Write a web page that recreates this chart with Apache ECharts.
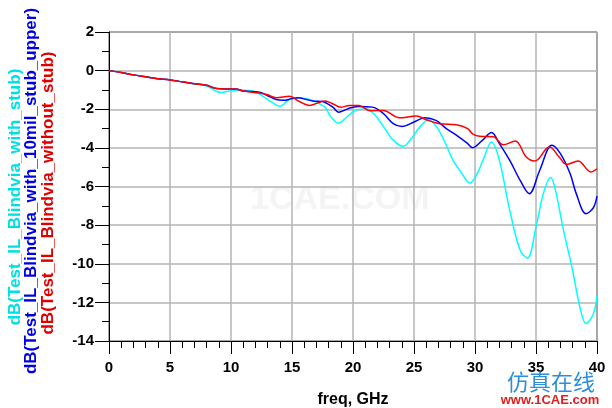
<!DOCTYPE html>
<html>
<head>
<meta charset="utf-8">
<script src="https://cdn.jsdelivr.net/npm/echarts@6/dist/echarts.min.js"></script>
<style>
html,body{margin:0;padding:0;background:#fff;}
#chart{width:612px;height:408px;}
</style>
</head>
<body>
<div id="chart"></div>
<script>
// ---- data ----
var xTicks = [0, 5, 10, 15, 20, 25, 30, 35, 40];
var yTicks = [2, 0, -2, -4, -6, -8, -10, -12, -14];

var cyanName = 'dB(Test_IL_Blindvia_with_stub)';
var blueName = 'dB(Test_IL_Blindvia_with_10mil_stub_upper)';
var redName  = 'dB(Test_IL_Blindvia_without_stub)';

var cyanFreq = [0, 1, 2, 3, 4, 5, 6, 7, 8, 8.8, 9.2, 10.0, 11.0, 11.8, 12.5, 13.3, 14.0, 14.8, 15.5, 16.2, 16.7, 17.7, 18.1, 18.8, 19.5, 20.2, 21.1, 21.8, 22.5, 23.3, 24.1, 24.8, 25.5, 26.2, 26.9, 27.6, 28.2, 28.75, 29.6, 30.2, 30.65, 31.35, 32.0, 32.85, 33.7, 34.3, 35.0, 35.6, 36.2, 36.6, 37.2, 38.0, 38.6, 39.1, 39.7, 40];
var cyanDB   = [0, -0.1, -0.22, -0.32, -0.42, -0.48, -0.58, -0.68, -0.8, -1.07, -1.13, -1.04, -1.02, -1.06, -1.28, -1.62, -1.85, -1.48, -1.40, -1.45, -1.55, -1.89, -2.32, -2.72, -2.4, -2.05, -1.97, -2.3, -2.9, -3.6, -3.92, -3.5, -2.9, -2.54, -2.95, -3.8, -4.65, -5.16, -5.82, -5.3, -4.65, -3.70, -4.65, -7.24, -9.3, -9.71, -8.1, -6.37, -5.54, -6.2, -8.1, -10.35, -12.25, -13.1, -12.6, -11.65];

var blueFreq = [0, 1, 2, 3, 4, 5, 6, 7, 8, 8.8, 9.5, 10.4, 11.0, 12.35, 13.0, 13.7, 14.3, 15.0, 15.5, 16.2, 16.7, 17.5, 18.0, 18.4, 18.8, 19.6, 20.4, 21.6, 22.5, 23.3, 24.0, 25.0, 25.9, 26.8, 27.65, 28.5, 29.4, 29.8, 30.6, 31.35, 32.0, 32.85, 33.7, 34.45, 35.3, 36.3, 37.0, 37.8, 38.3, 39.1, 39.7, 40];
var blueDB   = [0, -0.1, -0.22, -0.32, -0.42, -0.48, -0.58, -0.68, -0.76, -0.93, -0.95, -0.95, -1.05, -1.12, -1.3, -1.5, -1.54, -1.45, -1.41, -1.5, -1.57, -1.6, -1.75, -1.92, -2.15, -1.97, -1.86, -1.89, -2.23, -2.75, -2.89, -2.66, -2.44, -2.58, -3.0, -3.35, -3.78, -3.99, -3.61, -3.21, -3.78, -4.65, -5.68, -6.37, -5.17, -3.87, -4.3, -5.34, -6.37, -7.41, -7.1, -6.5];

var redFreq = [0, 1, 2, 3, 4, 5, 6, 7, 8, 8.8, 9.5, 10.4, 11.0, 12.35, 13.0, 13.7, 14.8, 15.6, 16.45, 17.7, 18.3, 19.0, 19.7, 20.5, 21.4, 22.5, 23.8, 25.2, 26.0, 27.1, 28.5, 29.4, 29.8, 30.4, 31.5, 32.3, 33.3, 34.2, 34.9, 35.85, 36.1, 36.9, 37.5, 38.45, 39.5, 40];
var redDB   = [0, -0.1, -0.22, -0.32, -0.42, -0.48, -0.58, -0.68, -0.76, -0.93, -0.95, -0.95, -1.06, -1.16, -1.25, -1.4, -1.33, -1.6, -1.8, -1.57, -1.7, -1.9, -1.8, -1.8, -2.08, -2.06, -2.44, -2.35, -2.54, -2.75, -2.80, -3.0, -3.27, -3.4, -3.42, -3.84, -3.65, -4.47, -4.68, -4.04, -3.96, -4.47, -4.86, -4.68, -5.25, -5.08];

function pairs(xs, ys){ return xs.map(function(x,i){ return [x, ys[i]]; }); }

var chart = echarts.init(document.getElementById('chart'), null, {renderer:'canvas'});
var FONT = 'Liberation Sans, Arial, sans-serif';

var lineSeries = function(name, xs, ys, color){
  return {
    name: name, type:'line', data: pairs(xs, ys),
    showSymbol:false, smooth:0.35, animation:false,
    lineStyle:{color:color, width:1.5}, itemStyle:{color:color}
  };
};

chart.setOption({
  animation:false,
  backgroundColor:'#fff',
  grid:{left:109, right:15, top:32, bottom:67, containLabel:false, outerBoundsMode:'none', show:true, borderColor:'#000', borderWidth:1, backgroundColor:'transparent'},
  xAxis:{
    type:'value', min:xTicks[0], max:xTicks[xTicks.length-1], interval:5,
    axisLine:{show:true, onZero:false, lineStyle:{color:'#000', width:1}},
    axisTick:{show:true, length:13, lineStyle:{color:'#000', width:1}},
    minorTick:{show:true, splitNumber:5, length:7, lineStyle:{color:'#000', width:1}},
    splitLine:{show:true, lineStyle:{color:'#b4b4b4', width:1.5}},
    axisLabel:{color:'#000', fontWeight:'bold', fontSize:15, fontFamily:FONT, margin:19},
    name:'freq, GHz', nameLocation:'middle', nameGap:51,
    nameTextStyle:{color:'#000', fontWeight:'bold', fontSize:16, fontFamily:FONT}
  },
  yAxis:{
    type:'value', min:yTicks[yTicks.length-1], max:yTicks[0], interval:2,
    axisLine:{show:true, onZero:false, lineStyle:{color:'#000', width:1}},
    axisTick:{show:true, length:14, lineStyle:{color:'#000', width:1}},
    minorTick:{show:true, splitNumber:2, length:7, lineStyle:{color:'#000', width:1}},
    splitLine:{show:true, lineStyle:{color:'#b4b4b4', width:1.5}},
    axisLabel:{color:'#000', fontWeight:'bold', fontSize:15, fontFamily:FONT, margin:15}
  },
  graphic:[
    {type:'text', left:250, top:183, z:0, style:{text:'1CAE.COM', fill:'rgba(220,220,220,0.3)', font:'bold 34px ' + FONT}},
    {type:'text', x:15, y:197, rotation:Math.PI/2, z:10, style:{text:cyanName, fill:'#00e0e0', font:'bold 17px ' + FONT, align:'center', verticalAlign:'middle'}},
    {type:'text', x:31, y:191, rotation:Math.PI/2, z:10, style:{text:blueName, fill:'#0000e0', font:'bold 17px ' + FONT, align:'center', verticalAlign:'middle'}},
    {type:'text', x:48, y:193, rotation:Math.PI/2, z:10, style:{text:redName, fill:'#e00000', font:'bold 17px ' + FONT, align:'center', verticalAlign:'middle'}},
    {type:'text', x:551, y:382, z:10, style:{text:'仿真在线', fill:'#2d8fd8', font:'22px "Noto Sans CJK SC"', align:'center', verticalAlign:'middle'}},
    {type:'text', x:550, y:400, z:10, style:{text:'www.1CAE.com', fill:'#e02020', font:'bold 13px ' + FONT, align:'center', verticalAlign:'middle'}}
  ],
  series:[
    lineSeries(cyanName, cyanFreq, cyanDB, '#00ffff'),
    lineSeries(blueName, blueFreq, blueDB, '#0000ff'),
    lineSeries(redName, redFreq, redDB, '#ff0000')
  ]
});
</script>
</body>
</html>
